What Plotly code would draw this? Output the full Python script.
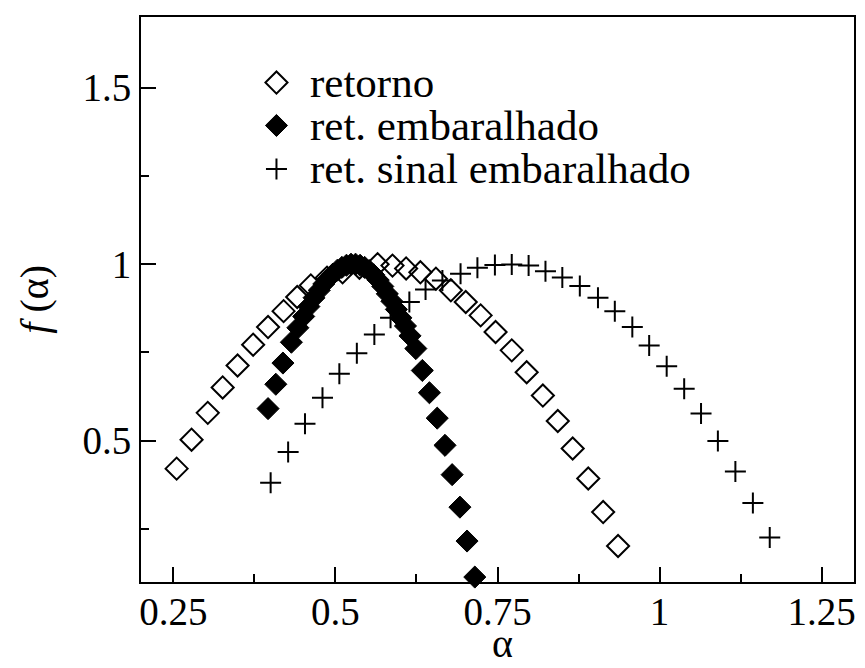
import plotly.graph_objects as go

# Multifractal spectra f(alpha)
alpha_retorno = [0.255, 0.278, 0.303, 0.326, 0.349, 0.373, 0.396, 0.420, 0.441, 0.462,
                 0.487, 0.511, 0.537, 0.565, 0.588, 0.609, 0.631, 0.655, 0.678, 0.701,
                 0.724, 0.747, 0.772, 0.795, 0.820, 0.843, 0.866, 0.890, 0.913, 0.936]
f_retorno = [0.421, 0.503, 0.579, 0.651, 0.713, 0.772, 0.822, 0.867, 0.907, 0.940,
             0.962, 0.977, 0.990, 1.000, 0.996, 0.988, 0.977, 0.959, 0.926, 0.893,
             0.855, 0.808, 0.756, 0.694, 0.628, 0.556, 0.478, 0.393, 0.298, 0.202]

alpha_embaralhado = [0.396, 0.408, 0.419, 0.432, 0.442, 0.451, 0.459, 0.467, 0.475, 0.482,
                     0.489, 0.496, 0.503, 0.510, 0.517, 0.524, 0.531, 0.538, 0.545, 0.552,
                     0.559, 0.566, 0.573, 0.580, 0.587, 0.594, 0.601, 0.608, 0.615, 0.624,
                     0.634, 0.645, 0.657, 0.669, 0.680, 0.692, 0.703, 0.715]
f_embaralhado = [0.591, 0.660, 0.720, 0.779, 0.820, 0.852, 0.880, 0.905, 0.926, 0.944,
                 0.959, 0.972, 0.983, 0.991, 0.997, 1.000, 1.000, 0.997, 0.991, 0.982,
                 0.970, 0.955, 0.937, 0.916, 0.895, 0.872, 0.848, 0.825, 0.797, 0.761,
                 0.699, 0.636, 0.564, 0.487, 0.404, 0.312, 0.216, 0.114]

alpha_sinal = [0.400, 0.427, 0.453, 0.480, 0.506, 0.533, 0.560, 0.585, 0.614, 0.639,
               0.665, 0.693, 0.719, 0.746, 0.772, 0.798, 0.824, 0.850, 0.877, 0.905,
               0.931, 0.958, 0.984, 1.011, 1.038, 1.064, 1.090, 1.117, 1.144, 1.170]
f_sinal = [0.381, 0.468, 0.548, 0.622, 0.690, 0.748, 0.801, 0.848, 0.893, 0.928,
           0.954, 0.973, 0.990, 0.998, 0.999, 0.996, 0.980, 0.962, 0.938, 0.905,
           0.867, 0.822, 0.770, 0.711, 0.647, 0.577, 0.499, 0.413, 0.324, 0.226]

series_names = ["retorno", "ret. embaralhado", "ret. sinal embaralhado"]

x_tickvals = [0.25, 0.5, 0.75, 1.0, 1.25]
x_ticktext = ["0.25", "0.5", "0.75", "1", "1.25"]
y_tickvals = [0.5, 1.0, 1.5]
y_ticktext = ["0.5", "1", "1.5"]

FONT = "Liberation Serif, Times New Roman, serif"
TICK_FS = 39
LEGEND_FS = 43
TITLE_FS = 40

marker_styles = [
    dict(symbol="diamond-open", size=17, color="black", line=dict(width=2, color="black")),
    dict(symbol="diamond", size=17, color="black", line=dict(width=1, color="black")),
    dict(symbol="cross-thin-open", size=15, color="black", line=dict(width=2, color="black")),
]

fig = go.Figure()
for xs, ys, name, mk in zip([alpha_retorno, alpha_embaralhado, alpha_sinal],
                            [f_retorno, f_embaralhado, f_sinal],
                            series_names, marker_styles):
    fig.add_trace(go.Scatter(x=xs, y=ys, mode="markers", name=name,
                             marker=mk, showlegend=False, cliponaxis=False))

# Legend keys on an overlay axis spanning the plot area (0..1)
key_x = 0.19
key_y = [0.884, 0.808, 0.731]
text_x = 0.234
for ky, name, mk in zip(key_y, series_names, marker_styles):
    fig.add_trace(go.Scatter(x=[key_x], y=[ky], mode="markers", marker=mk,
                             xaxis="x2", yaxis="y2", showlegend=False, hoverinfo="skip"))
    fig.add_annotation(x=text_x, y=ky, xref="paper", yref="paper", text=name,
                       showarrow=False, xanchor="left", yanchor="middle",
                       font=dict(family=FONT, size=LEGEND_FS, color="black"))

axis_common = dict(showgrid=False, zeroline=False, showline=True, linecolor="black",
                   linewidth=2, mirror=True, ticks="inside", ticklen=15, tickwidth=2,
                   tickcolor="black", tickfont=dict(family=FONT, size=TICK_FS, color="black"))

fig.update_layout(
    width=865, height=668,
    margin=dict(l=141, r=9, t=17, b=86),
    paper_bgcolor="white", plot_bgcolor="white",
    xaxis=dict(range=[0.2, 1.3], tickmode="array", tickvals=x_tickvals, ticktext=x_ticktext,
               ticklabelstandoff=-6,
               minor=dict(ticks="inside", ticklen=8, tickwidth=2, tickcolor="black",
                          tickmode="linear", tick0=0.125, dtick=0.25),
               **axis_common),
    yaxis=dict(range=[0.1, 1.7], tickmode="array", tickvals=y_tickvals, ticktext=y_ticktext,
               minor=dict(ticks="inside", ticklen=8, tickwidth=2, tickcolor="black",
                          tickmode="linear", tick0=0.25, dtick=0.5),
               **axis_common),
    xaxis2=dict(range=[0, 1], overlaying="x", visible=False, anchor="y2"),
    yaxis2=dict(range=[0, 1], overlaying="y", visible=False, anchor="x2"),
    showlegend=False,
)

# Axis titles
fig.add_annotation(x=0.5064, y=-0.152, xref="paper", yref="paper", text="α",
                   showarrow=False, xanchor="center", yanchor="bottom",
                   font=dict(family=FONT, size=TITLE_FS, color="black"))
fig.add_annotation(x=-0.149, y=0.501, xref="paper", yref="paper", text="<i>f</i> (α)",
                   showarrow=False, xanchor="center", yanchor="middle", textangle=-90,
                   font=dict(family=FONT, size=TITLE_FS, color="black"))

fig.write_html("out.html")
